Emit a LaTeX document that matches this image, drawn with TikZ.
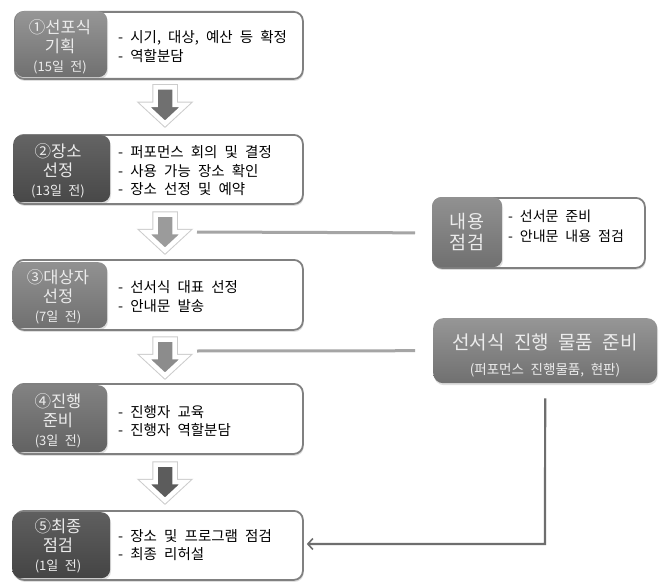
\documentclass[tikz,border=0pt]{standalone}
\usepackage{fontspec}
\setmainfont[WordSpace=2.2]{Noto Sans CJK KR}
\usetikzlibrary{shadows,arrows.meta}
\definecolor{boxline}{RGB}{128,128,128}
\definecolor{conn}{RGB}{110,110,110}
\definecolor{sideline}{RGB}{165,165,165}
\definecolor{lbltext}{RGB}{236,236,236}
\definecolor{gA}{RGB}{150,150,150}\definecolor{gAb}{RGB}{112,112,112}
\definecolor{gB}{RGB}{100,100,100}\definecolor{gBb}{RGB}{72,72,72}
\definecolor{gC}{RGB}{145,145,145}\definecolor{gCb}{RGB}{112,112,112}
\definecolor{gD}{RGB}{130,130,130}\definecolor{gDb}{RGB}{98,98,98}
\definecolor{gE}{RGB}{95,95,95}\definecolor{gEb}{RGB}{68,68,68}
\definecolor{aA}{RGB}{112,112,112}
\definecolor{aB}{RGB}{155,155,155}
\definecolor{aC}{RGB}{140,140,140}
\definecolor{aD}{RGB}{92,92,92}
\tikzset{
  shade/.style={drop shadow={shadow xshift=0.8pt,shadow yshift=-2pt,opacity=0.25}},
  outerbox/.style={draw=boxline,line width=1.8pt,rounded corners=9pt,fill=white,
    anchor=north west,inner sep=0pt,shade},
  lblbox/.style={rounded corners=9pt,anchor=north west,inner sep=0pt,shade},
  lbltxt/.style={text=lbltext,align=center,font=\fontsize{16.5}{19}\selectfont,inner sep=0pt},
  bodytxt/.style={anchor=west,align=left,font=\fontsize{14.5}{18.5}\selectfont,inner sep=0pt},
  sidetxt/.style={anchor=west,align=left,font=\fontsize{14}{20}\selectfont,inner sep=0pt},
  dnarrow/.pic={
    \path[draw=black!20,line width=6.5pt,line join=miter]
      (-9.5,0) -- (9.5,0) -- (9.5,17.5) -- (20,17.5) -- (0,36) -- (-20,17.5) -- (-9.5,17.5) -- cycle;
    \path[draw=white,line width=4.5pt,line join=miter,pic actions]
      (-9.5,0) -- (9.5,0) -- (9.5,17.5) -- (20,17.5) -- (0,36) -- (-20,17.5) -- (-9.5,17.5) -- cycle;
  },
  sideconn/.style={draw=sideline,line width=3pt},
  retconn/.style={draw=conn,line width=2.2pt,-{Straight Barb[length=5pt,width=11pt,line width=1.6pt]}}
}
\begin{document}
\begin{tikzpicture}[x=1pt,y=-1pt]
\useasboundingbox (0,0) rectangle (662,586);
\fill[white] (0,0) rectangle (662,586);

% step boxes
\node[outerbox,minimum width=288pt,minimum height=67pt] (b1) at (14,11) {};
\node[lblbox,minimum width=92pt,minimum height=66pt,top color=gA,bottom color=gAb] (l1) at (15,11) {};
\node[lbltxt] (t1) at (60,47) {①선포식\\기획\\{\fontsize{13}{16}\selectfont(15일 전)}};
\node[bodytxt] (d1) at (118,46.5) {- 시기, 대상, 예산 등 확정\\- 역할분담};

\node[outerbox,minimum width=288pt,minimum height=69pt] (b2) at (14,134) {};
\node[lblbox,minimum width=97pt,minimum height=67pt,top color=gB,bottom color=gBb] (l2) at (13,135) {};
\node[lbltxt] (t2) at (58,171) {②장소\\선정\\{\fontsize{13}{16}\selectfont(13일 전)}};
\node[bodytxt] (d2) at (118,171) {- 퍼포먼스 회의 및 결정\\- 사용 가능 장소 확인\\- 장소 선정 및 예약};

\node[outerbox,minimum width=288pt,minimum height=70pt] (b3) at (14,259) {};
\node[lblbox,minimum width=95pt,minimum height=66pt,top color=gC,bottom color=gCb] (l3) at (12,262) {};
\node[lbltxt] (t3) at (58,297) {③대상자\\선정\\{\fontsize{13}{16}\selectfont(7일 전)}};
\node[bodytxt] (d3) at (118,296.5) {- 선서식 대표 선정\\- 안내문 발송};

\node[outerbox,minimum width=288pt,minimum height=70pt] (b4) at (14,383) {};
\node[lblbox,minimum width=95pt,minimum height=67pt,top color=gD,bottom color=gDb] (l4) at (12,385) {};
\node[lbltxt] (t4) at (58,421) {④진행\\준비\\{\fontsize{13}{16}\selectfont(3일 전)}};
\node[bodytxt] (d4) at (118,421) {- 진행자 교육\\- 진행자 역할분담};

\node[outerbox,minimum width=288pt,minimum height=69pt] (b5) at (14,510) {};
\node[lblbox,minimum width=98pt,minimum height=66pt,top color=gE,bottom color=gEb] (l5) at (12,512) {};
\node[lbltxt] (t5) at (58,546) {⑤최종\\점검\\{\fontsize{13}{16}\selectfont(1일 전)}};
\node[bodytxt] (d5) at (118,545) {- 장소 및 프로그램 점검\\- 최종 리허설};

% down arrows
\pic[fill=aA] (p1) at (165,87.5) {dnarrow};
\pic[fill=aB] (p2) at (165,214.5) {dnarrow};
\pic[fill=aC] (p3) at (165,339.5) {dnarrow};
\pic[fill=aD] (p4) at (165,464.5) {dnarrow};

% side boxes
\node[outerbox,minimum width=212pt,minimum height=70pt] (k1) at (432,197) {};
\node[lblbox,minimum width=70pt,minimum height=70pt,top color=gC,bottom color=gCb] (kl1) at (432,197) {};
\node[lbltxt,font=\fontsize{18.5}{21}\selectfont] (kt1) at (467,231.5) {내용\\점검};
\node[sidetxt] (kd1) at (508,226) {- 선서문 준비\\- 안내문 내용 점검};

\node[lblbox,minimum width=224pt,minimum height=65pt,top color=gA,bottom color=gCb,rounded corners=10pt] (k2) at (433,318) {};
\node[lbltxt,font=\fontsize{19}{25}\selectfont] (kt2) at (545,355) {선서식 진행 물품 준비\\{\fontsize{13.5}{15}\selectfont(퍼포먼스 진행물품, 현판)}};

% connectors
\coordinate (c1) at (197,232);
\coordinate (c2) at (197,351);
\draw[sideconn,shorten <=17pt] (k1.west) -- (c1);
\draw[sideconn,shorten <=18pt] (k2.west) -- (c2);
\coordinate (bend) at (545,544);
\draw[retconn,shorten <=15pt,shorten >=3pt] (k2.south) -- (bend) -- (bend -| b5.east);
\end{tikzpicture}
\end{document}
